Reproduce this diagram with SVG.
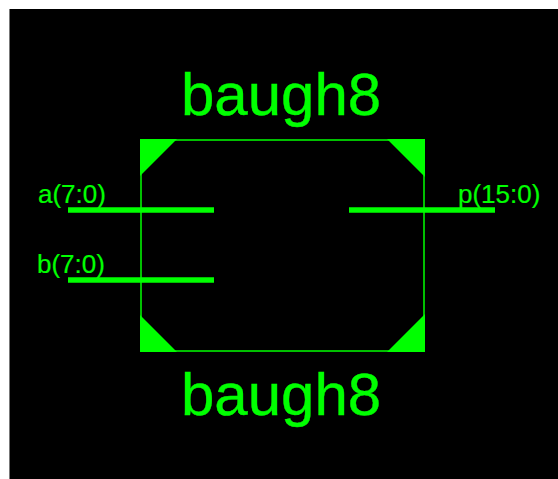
<svg xmlns="http://www.w3.org/2000/svg" width="558" height="479" viewBox="0 0 558 479">
<style>
.t{font-family:"Liberation Sans",Arial,sans-serif;fill:#00ff00;stroke:#00ff00}
.title{font-size:60px;stroke-width:.4px}
.port{font-size:26px;stroke-width:.2px}
.wire{stroke:#00ff00;stroke-width:5.4;fill:none}
.corner{fill:#00ff00}
</style>
<rect width="558" height="479" fill="#ffffff"/>
<rect x="10" y="9" width="548" height="470" fill="#000000"/>
<rect x="9" y="9" width="1" height="470" fill="#777777"/>
<g id="block">
<rect x="141" y="140" width="283" height="211" fill="none" stroke="#00ff00" stroke-width="1.5"/>
<polygon class="corner" points="140,139 177,139 140,176"/>
<polygon class="corner" points="425,139 387,139 425,177"/>
<polygon class="corner" points="140,352 140,315 177,352"/>
<polygon class="corner" points="425,352 387,352 425,314"/>
<text class="t title" x="181" y="115">baugh8</text>
<text class="t title" x="181" y="415">baugh8</text>
</g>
<g id="port-a"><text class="t port" x="38" y="203">a(7:0)</text></g>
<g id="port-b"><text class="t port" x="37" y="273">b(7:0)</text></g>
<g id="port-p"><text class="t port" x="458" y="203">p(15:0)</text></g>
<g id="connectors">
<line class="wire" x1="68" y1="210" x2="214" y2="210"/>
<line class="wire" x1="68" y1="280" x2="214" y2="280"/>
<line class="wire" x1="349" y1="210" x2="495" y2="210"/>
</g>
</svg>
